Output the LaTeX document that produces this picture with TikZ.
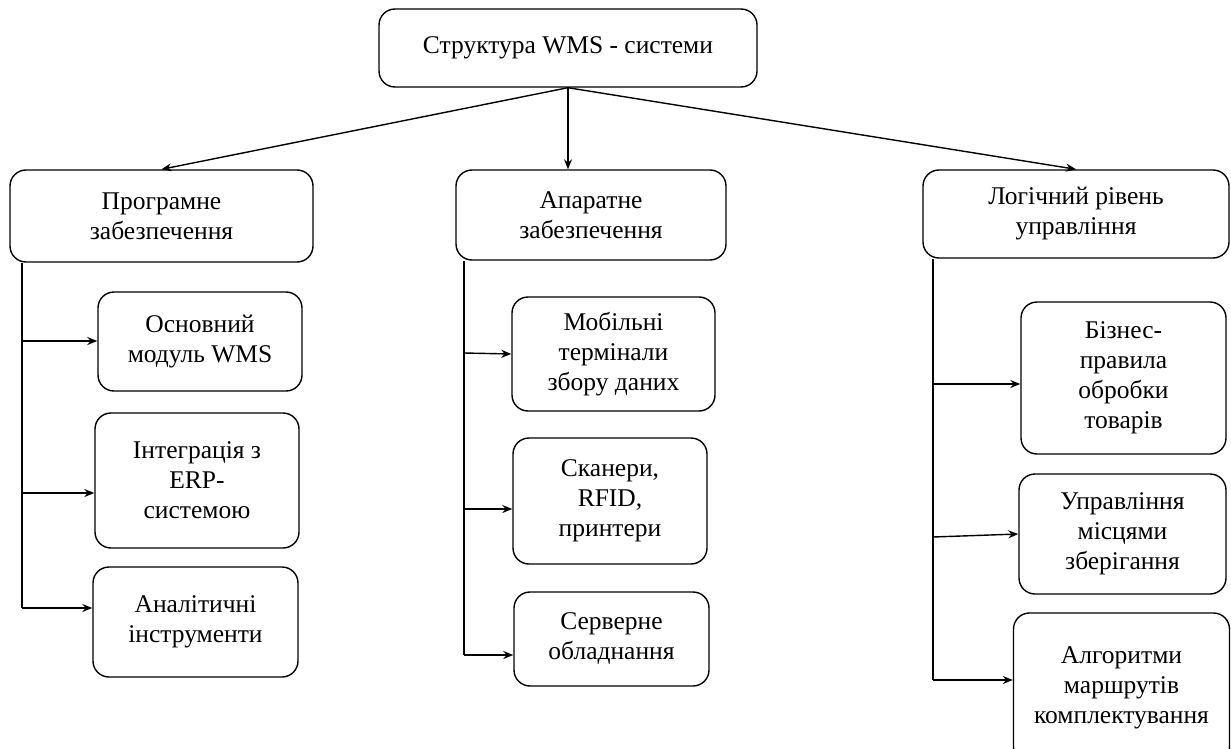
\documentclass[tikz,border=0pt]{standalone}
\usepackage{fontspec}
\setmainfont{Liberation Serif}
\usepackage{tikz}
\usetikzlibrary{shapes,positioning,arrows.meta}

\begin{document}
\begin{tikzpicture}[
    x=1pt, y=-1pt,
    box/.style={rectangle, draw, rounded corners=16pt, line width=1.4pt, align=center, font=\fontsize{25.5}{30}\selectfont},
    titlebox/.style={box, minimum width=378pt, minimum height=78pt},
    groupbox/.style={box, minimum height=90pt},
    itembox/.style={box, inner sep=4pt},
    arrow/.style={->, >={Stealth[length=10pt,width=8pt]}, line width=1.4pt},
    line/.style={line width=1.4pt}
]
\useasboundingbox (0,0) rectangle (1231,749);

% Main title
\node[titlebox] (main) at (568,48) {Структура WMS - системи};

% Second level
\node[groupbox, minimum width=303pt, minimum height=92pt] (software) at (161.5,216) {Програмне\\забезпечення};
\node[groupbox, minimum width=270pt] (hardware) at (591,215) {Апаратне\\забезпечення};
\node[groupbox, minimum width=306pt, minimum height=88pt] (logic) at (1076,214) {Логічний рівень\\управління};

% Left branch: software
\node[itembox, minimum width=204pt, minimum height=99pt] (coremodule) at (200,341.5) {Основний\\модуль WMS};
\node[itembox, minimum width=204pt, minimum height=135pt] (erp) at (197,480.5) {Інтеграція з\\ERP-\\системою};
\node[itembox, minimum width=205pt, minimum height=110pt] (analytics) at (195.5,622) {Аналітичні\\інструменти};

% Middle branch: hardware
\node[itembox, minimum width=203pt, minimum height=114pt] (terminals) at (613.5,354) {Мобільні\\термінали\\збору даних};
\node[itembox, minimum width=194pt, minimum height=126pt] (scanners) at (610,501) {Сканери,\\RFID,\\принтери};
\node[itembox, minimum width=195pt, minimum height=94pt] (servers) at (611.5,639) {Серверне\\обладнання};

% Right branch: logic
\node[itembox, minimum width=205pt, minimum height=152pt] (rules) at (1123.5,378) {Бізнес-\\правила\\обробки\\товарів};
\node[itembox, minimum width=207pt, minimum height=120pt] (storage) at (1122.5,534) {Управління\\місцями\\зберігання};
\node[itembox, minimum width=216pt, minimum height=150pt] (routing) at (1121.5,688) {Алгоритми\\маршрутів\\комплектування};

% Branch points on the trunks
\coordinate (sw1) at (22,341);
\coordinate (sw2) at (22,493);
\coordinate (sw3) at (22,608);
\coordinate (hw1) at (464,353);
\coordinate (hw2) at (464,509);
\coordinate (hw3) at (464,655);
\coordinate (lg1) at (933,384);
\coordinate (lg2) at (933,537);
\coordinate (lg3) at (933,680);

% Arrows from main
\draw[arrow] (main.south) -- (software.north);
\draw[arrow] (main.south) -- (main.south |- hardware.north);
\draw[arrow] (main.south) -- (logic.north);

% Trunks
\draw[line] (sw3 |- software.south) -- (sw3);
\draw[line] (hw3 |- hardware.south) -- (hw3);
\draw[line] (lg3 |- logic.south) -- (lg3);

% Arrows to items
\draw[arrow] (sw1) -- (sw1 -| coremodule.west);
\draw[arrow] (sw2) -- (sw2 -| erp.west);
\draw[arrow] (sw3) -- (sw3 -| analytics.west);
\draw[arrow] (hw1) -- (terminals.west);
\draw[arrow] (hw2) -- (hw2 -| scanners.west);
\draw[arrow] (hw3) -- (hw3 -| servers.west);
\draw[arrow] (lg1) -- (lg1 -| rules.west);
\draw[arrow] (lg2) -- (storage.west);
\draw[arrow] (lg3) -- (lg3 -| routing.west);

\end{tikzpicture}
\end{document}
